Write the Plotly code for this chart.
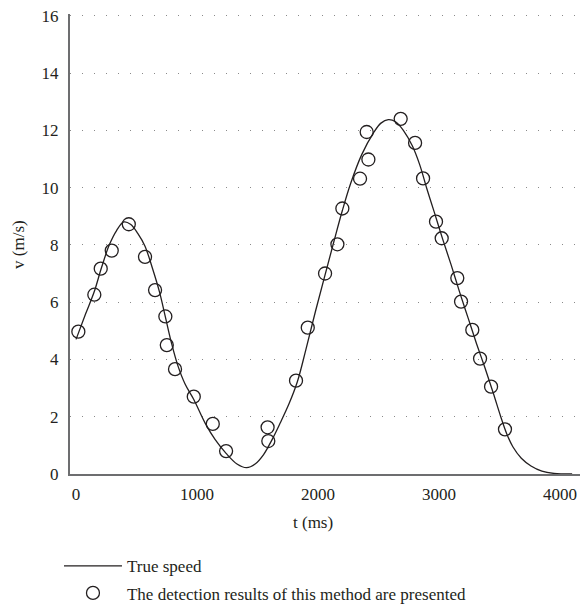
import plotly.graph_objects as go

# ---- data ----
true_t = [0, 80, 150, 210, 275, 335, 395, 450, 510, 570, 630, 690, 740, 790, 840, 900,
          973, 1070, 1150, 1240, 1330, 1410, 1480, 1550, 1620, 1686, 1760, 1829, 1900,
          1980, 2058, 2130, 2201, 2270, 2361, 2457, 2520, 2581, 2640, 2705, 2780, 2840,
          2900, 2960, 3030, 3100, 3170, 3240, 3310, 3380, 3450, 3510, 3560, 3610, 3680,
          3760, 3850, 3950, 4100]
true_v = [4.7, 5.6, 6.36, 7.2, 8.0, 8.5, 8.8, 8.72, 8.4, 7.95, 7.2, 6.35, 5.45, 4.55, 3.8, 3.15,
          2.6, 1.75, 1.2, 0.72, 0.35, 0.22, 0.35, 0.68, 1.2, 1.77, 2.45, 3.22, 4.35,
          5.7, 6.95, 8.1, 9.2, 10.15, 11.15, 11.9, 12.25, 12.37, 12.3, 12.0, 11.45, 10.8,
          9.95, 9.15, 8.2, 7.3, 6.35, 5.45, 4.55, 3.7, 2.8, 2.0, 1.4, 0.95, 0.55,
          0.28, 0.1, 0.02, 0.0]

det_t = [19, 151, 204, 295, 436, 570, 653, 738, 750, 818, 973, 1130, 1240, 1583, 1589,
         1818, 1915, 2058, 2160, 2201, 2347, 2402, 2416, 2683, 2802, 2868, 2975, 3022,
         3151, 3182, 3275, 3339, 3430, 3545]
det_v = [4.97, 6.26, 7.17, 7.80, 8.72, 7.58, 6.42, 5.50, 4.50, 3.66, 2.70, 1.75, 0.80, 1.63, 1.15,
         3.26, 5.11, 7.0, 8.02, 9.27, 10.31, 11.94, 10.98, 12.40, 11.56, 10.32, 8.81, 8.23,
         6.84, 6.02, 5.03, 4.03, 3.05, 1.56]

x_ticks = [0, 1000, 2000, 3000, 4000]
y_ticks = [0, 2, 4, 6, 8, 10, 12, 14, 16]

INK = "#231f20"
FONT = "Liberation Serif"

fig = go.Figure()
fig.add_trace(go.Scatter(
    x=true_t, y=true_v, mode="lines", name="True speed",
    line=dict(color=INK, width=1.3, shape="spline", smoothing=1.0),
    legendgroup="a",
))
fig.add_trace(go.Scatter(
    x=det_t, y=det_v, mode="markers",
    name="The detection results of this method are presented",
    marker=dict(symbol="circle-open", size=13, color=INK, line=dict(width=1.3, color=INK)),
    legendgroup="b",
))

fig.update_layout(
    width=581, height=608,
    margin=dict(l=70, r=1, t=14.3, b=134, autoexpand=False),
    paper_bgcolor="white", plot_bgcolor="white",
    font=dict(family=FONT, size=17, color=INK),
    showlegend=True,
    legend=dict(
        xref="container", yref="container",
        x=0.1015, y=0.0983, xanchor="left", yanchor="top",
        itemwidth=58, tracegroupgap=2,
        font=dict(family=FONT, size=17, color=INK),
        bgcolor="rgba(0,0,0,0)",
    ),
    annotations=[
        dict(text="t (ms)", xref="paper", yref="paper", x=0.476, y=0,
             yshift=-48, showarrow=False, xanchor="center", yanchor="middle",
             font=dict(family=FONT, size=17, color=INK)),
        dict(text="v (m/s)", xref="paper", yref="paper", x=-0.102, y=0.5,
             textangle=-90, showarrow=False, xanchor="center", yanchor="middle",
             font=dict(family=FONT, size=17, color=INK)),
    ],
)

fig.update_xaxes(
    range=[-50, 4165], tickvals=x_ticks, ticktext=[str(v) for v in x_ticks],
    tickangle=0,
    showgrid=False, zeroline=False, showline=True, linecolor="#6d6e70", linewidth=2,
    ticks="", ticklabelstandoff=4,
)
fig.update_yaxes(
    range=[0, 16.06], tickvals=y_ticks, ticktext=[str(v) for v in y_ticks],
    showgrid=True, gridcolor="#8a8a8a", gridwidth=1, griddash="1px,11px",
    zeroline=False, showline=True, linecolor="#6d6e70", linewidth=2,
    ticks="", ticklabelstandoff=6,
)

fig.write_html("out.html")
